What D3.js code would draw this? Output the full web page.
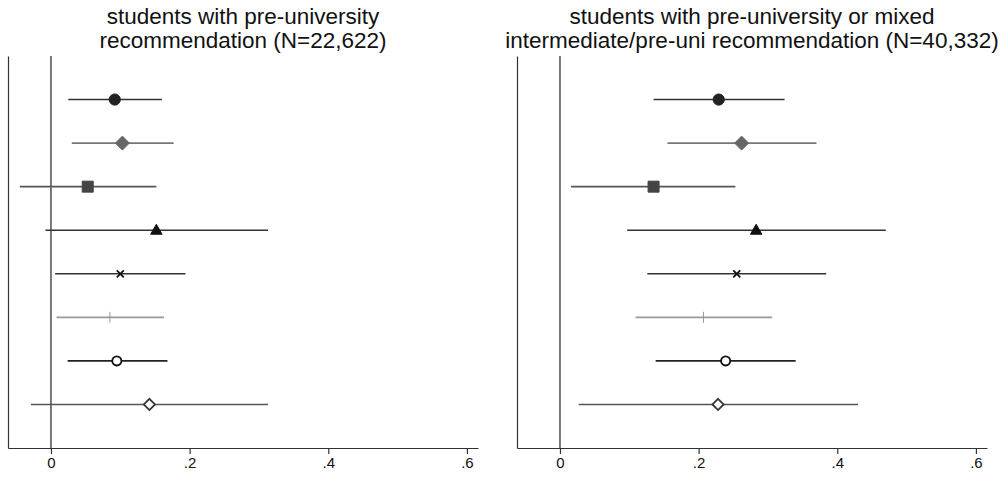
<!DOCTYPE html>
<html>
<head>
<meta charset="utf-8">
<script src="https://cdn.jsdelivr.net/npm/d3@7"></script>
<style>
  body { margin: 0; background: #fff; }
  svg { display: block; font-family: "Liberation Sans", Arial, Helvetica, sans-serif; }
  .x-axis text { font-size: 15px; fill: #111; }
</style>
</head>
<body>
<svg id="chart" width="1006" height="478"></svg>
<script>
// rows 1..8 from top to bottom
const rows = [1, 2, 3, 4, 5, 6, 7, 8];
const xTicks = [0, 0.2, 0.4, 0.6];

const leftTitle = ['students with pre-university', 'recommendation (N=22,622)'];
const leftEst = [0.092, 0.103, 0.053, 0.152, 0.100, 0.085, 0.095, 0.142];
const leftLo  = [0.025, 0.030, -0.045, -0.008, 0.006, 0.008, 0.024, -0.029];
const leftHi  = [0.160, 0.177, 0.152, 0.313, 0.194, 0.163, 0.168, 0.313];

const rightTitle = ['students with pre-university or mixed', 'intermediate/pre-uni recommendation (N=40,332)'];
const rightEst = [0.229, 0.262, 0.135, 0.283, 0.255, 0.207, 0.239, 0.228];
const rightLo  = [0.135, 0.155, 0.016, 0.097, 0.126, 0.109, 0.138, 0.027];
const rightHi  = [0.324, 0.370, 0.253, 0.470, 0.384, 0.306, 0.340, 0.430];

// marker look per row
const markers = [
  { shape: 'circle',   fill: '#222', stroke: '#222', line: '#333' },
  { shape: 'diamond',  fill: '#666', stroke: '#666', line: '#777' },
  { shape: 'square',   fill: '#444', stroke: '#444', line: '#555' },
  { shape: 'triangle', fill: '#111', stroke: '#111', line: '#333' },
  { shape: 'x',        fill: 'none', stroke: '#111', line: '#333' },
  { shape: 'plus',     fill: 'none', stroke: '#999', line: '#999' },
  { shape: 'ocircle',  fill: '#fff', stroke: '#111', line: '#222' },
  { shape: 'odiamond', fill: '#fff', stroke: '#333', line: '#555' }
];

const svg = d3.select('#chart');
const plotTop = 56, plotBottom = 448;
const xDomain = [-0.062, 0.616];

const y = d3.scaleLinear().domain([0, 9]).range([plotTop, plotBottom]);

function markerPath(shape) {
  const p = d3.path();
  switch (shape) {
    case 'diamond':
      p.moveTo(0, -7); p.lineTo(7, 0); p.lineTo(0, 7); p.lineTo(-7, 0); p.closePath();
      break;
    case 'odiamond':
      p.moveTo(0, -5.6); p.lineTo(5.6, 0); p.lineTo(0, 5.6); p.lineTo(-5.6, 0); p.closePath();
      break;
    case 'square':
      p.rect(-5.5, -5.5, 11, 11);
      break;
    case 'triangle':
      p.moveTo(0, -6); p.lineTo(5.7, 4); p.lineTo(-5.7, 4); p.closePath();
      break;
    case 'x':
      p.moveTo(-3.5, -3.5); p.lineTo(3.5, 3.5); p.moveTo(3.5, -3.5); p.lineTo(-3.5, 3.5);
      break;
    case 'plus':
      p.moveTo(0, -5.5); p.lineTo(0, 5.5);
      break;
    case 'ocircle':
      p.arc(0, 0, 4.6, 0, 2 * Math.PI);
      break;
    default:
      p.arc(0, 0, 5.6, 0, 2 * Math.PI);
  }
  return p.toString();
}

function drawPanel(x0, x1, title, est, lo, hi) {
  const x = d3.scaleLinear().domain(xDomain).range([x0, x1]);
  const g = svg.append('g');
  const cx = (x0 + x1) / 2;

  // title
  title.forEach((t, i) => {
    g.append('text')
      .attr('x', cx)
      .attr('y', 24 + i * 24)
      .attr('text-anchor', 'middle')
      .attr('font-size', 22.5)
      .attr('fill', '#111')
      .text(t);
  });

  // x axis
  const xAxis = d3.axisBottom(x)
    .tickValues(xTicks)
    .tickSizeInner(6)
    .tickSizeOuter(0)
    .tickPadding(3)
    .tickFormat(d => d === 0 ? '0' : d3.format('.1f')(d).replace(/^0/, ''));
  const ax = g.append('g')
    .attr('class', 'x-axis')
    .attr('transform', `translate(0,${plotBottom})`)
    .call(xAxis);
  ax.select('.domain').attr('stroke', '#333').attr('stroke-width', 1.2);
  ax.selectAll('.tick line').attr('stroke', '#333').attr('stroke-width', 1.2);

  // left axis line
  const yAxis = d3.axisLeft(y).tickValues([]).tickSizeOuter(0);
  const ay = g.append('g')
    .attr('transform', `translate(${x(xDomain[0])},0)`)
    .call(yAxis);
  ay.select('.domain').attr('stroke', '#333').attr('stroke-width', 1.2);

  // zero reference line
  g.append('line')
    .attr('x1', x(0)).attr('x2', x(0))
    .attr('y1', plotTop).attr('y2', plotBottom)
    .attr('stroke', '#222')
    .attr('stroke-width', 1.2);

  // confidence intervals
  g.selectAll('.ci')
    .data(rows)
    .join('line')
    .attr('class', 'ci')
    .attr('x1', (d, i) => x(lo[i]))
    .attr('x2', (d, i) => x(hi[i]))
    .attr('y1', d => y(d))
    .attr('y2', d => y(d))
    .attr('stroke', (d, i) => markers[i].line)
    .attr('stroke-width', 1.6);

  // point estimates
  g.selectAll('.pt')
    .data(rows)
    .join('path')
    .attr('class', 'pt')
    .attr('transform', (d, i) => `translate(${x(est[i])},${y(d)})`)
    .attr('d', (d, i) => markerPath(markers[i].shape))
    .attr('fill', (d, i) => markers[i].fill)
    .attr('stroke', (d, i) => markers[i].stroke)
    .attr('stroke-width', (d, i) => ['x', 'ocircle', 'odiamond'].includes(markers[i].shape) ? 1.8 : 1);
}

drawPanel(8, 478, leftTitle, leftEst, leftLo, leftHi);
drawPanel(517, 987, rightTitle, rightEst, rightLo, rightHi);
</script>
</body>
</html>
